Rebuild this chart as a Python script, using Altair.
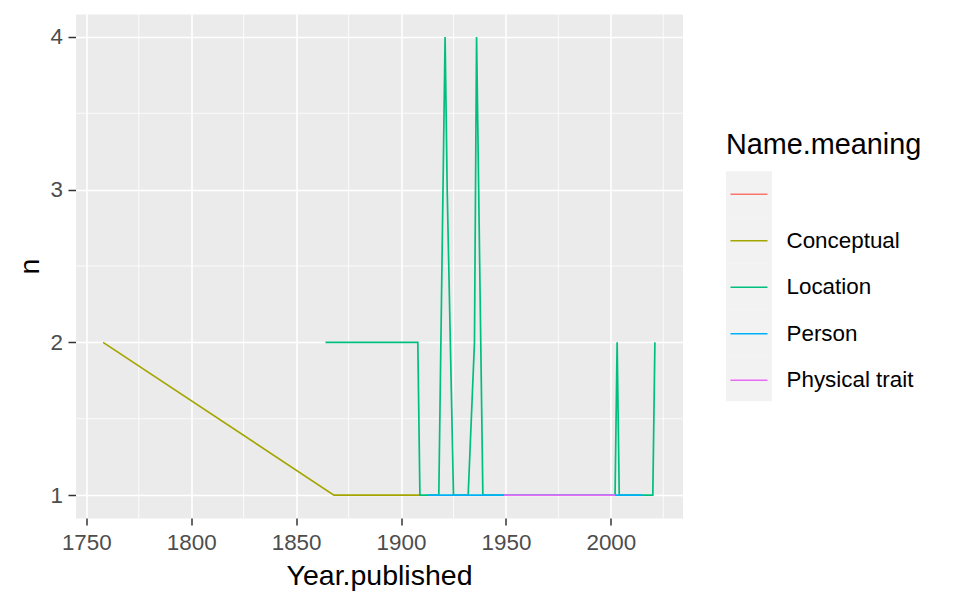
import altair as alt
import pandas as pd

FONT = "Liberation Sans"

# categories and colours (ggplot hue palette)
categories = ["", "Conceptual", "Location", "Person", "Physical trait"]
colors = ["#F8766D", "#A3A500", "#00BF7D", "#00B0F6", "#E76BF3"]

# series (Year.published, n)
blank_years = [1950]
blank_n = [1]
conceptual_years = [1758, 1868, 1909]
conceptual_n = [2, 1, 1]
location_years = [1864, 1908, 1909, 1918, 1921, 1922, 1925, 1932, 1935, 1936, 1937, 1939,
                  2002, 2003, 2004, 2020, 2021]
location_n = [2, 2, 1, 1, 4, 3, 1, 1, 2, 4, 3, 1, 1, 2, 1, 1, 2]
person_years = [1913, 1926, 1931, 1940, 1949, 2004, 2015]
person_n = [1, 1, 1, 1, 1, 1, 1]
physical_years = [1949, 1972, 2002]
physical_n = [1, 1, 1]

# axis breaks
x_breaks = [1750, 1800, 1850, 1900, 1950, 2000]
x_minor = [1775, 1825, 1875, 1925, 1975, 2025]
y_breaks = [1, 2, 3, 4]
y_minor = [1.5, 2.5, 3.5]
x_domain = [1744.85, 2034.15]
y_domain = [0.85, 4.15]

rows = []
for cat, ys, ns in [("", blank_years, blank_n),
                    ("Conceptual", conceptual_years, conceptual_n),
                    ("Location", location_years, location_n),
                    ("Person", person_years, person_n),
                    ("Physical trait", physical_years, physical_n)]:
    for y, n in zip(ys, ns):
        rows.append({"year": y, "n": n, "cat": cat})
df = pd.DataFrame(rows)

xs = alt.Scale(domain=x_domain, nice=False, zero=False)
ysc = alt.Scale(domain=y_domain, nice=False, zero=False)

x_axis = alt.Axis(title="Year.published", values=x_breaks, format="d", grid=True,
                  gridColor="white", gridWidth=1.6, domain=False, ticks=True, tickSize=7,
                  tickWidth=1.5, tickColor="#333333", labelFontSize=22.4, labelColor="#4D4D4D",
                  labelFont=FONT, labelPadding=6, labelFlush=False, labelOverlap=False,
                  titleFontSize=28.5, titleFont=FONT, titleFontWeight="normal", titleColor="black",
                  titlePadding=8)
y_axis = alt.Axis(title="n", values=y_breaks, format="d", grid=True,
                  gridColor="white", gridWidth=1.6, domain=False, ticks=True, tickSize=7.5,
                  tickWidth=1.5, tickColor="#333333", labelFontSize=22.4, labelColor="#4D4D4D",
                  labelFont=FONT, labelPadding=5.5, labelFlush=False, labelOverlap=False,
                  titleFontSize=28.5, titleFont=FONT, titleFontWeight="normal", titleColor="black",
                  titlePadding=6)

minor_x = alt.Chart(pd.DataFrame({"year": x_minor})).mark_rule(
    color="white", strokeWidth=0.8).encode(x=alt.X("year:Q", scale=xs, axis=x_axis))
minor_y = alt.Chart(pd.DataFrame({"n": y_minor})).mark_rule(
    color="white", strokeWidth=0.8).encode(y=alt.Y("n:Q", scale=ysc, axis=y_axis))

# grey key column of the legend (carries the legend title)
key_legend = alt.Legend(title="Name.meaning", orient="none", legendX=650.5, legendY=116.5,
                        direction="vertical", titleColor="black", titleFontSize=28.8,
                        titleFont=FONT, titleFontWeight="normal", titlePadding=12,
                        titleLimit=400, labelExpr="''", labelFontSize=22.4, labelFont=FONT,
                        symbolType="square", symbolSize=2116, symbolStrokeWidth=0,
                        symbolOpacity=1, rowPadding=0, padding=0)
keys = alt.Chart(df).transform_filter("datum.n > 100").mark_square(opacity=1).encode(
    x=alt.X("year:Q", scale=xs, axis=x_axis),
    y=alt.Y("n:Q", scale=ysc, axis=y_axis),
    fill=alt.Fill("cat:N", scale=alt.Scale(domain=categories, range=["#F2F2F2"] * 5),
                  legend=key_legend),
)

# coloured line keys + labels
line_legend = alt.Legend(title=None, orient="none", legendX=654, legendY=160.8,
                         direction="vertical", labelFontSize=22.4, labelFont=FONT,
                         labelColor="black", labelOffset=18, labelLimit=300,
                         symbolType="stroke", symbolSize=1369, symbolStrokeWidth=1.5,
                         rowPadding=15.5, padding=0)
lines = alt.Chart(df).mark_line(strokeWidth=1.7).encode(
    x=alt.X("year:Q", scale=xs, axis=x_axis),
    y=alt.Y("n:Q", scale=ysc, axis=y_axis),
    stroke=alt.Stroke("cat:N", scale=alt.Scale(range=colors), legend=line_legend),
)

chart = alt.layer(minor_x, minor_y, keys, lines).properties(
    width=607, height=504,
    autosize=alt.AutoSizeParams(type="none"),
    padding={"left": 67.5, "top": 6, "right": 260, "bottom": 76},
).configure_view(fill="#EBEBEB", stroke="transparent")

chart.save("out.html", embed_options={"renderer": "svg", "actions": False})
